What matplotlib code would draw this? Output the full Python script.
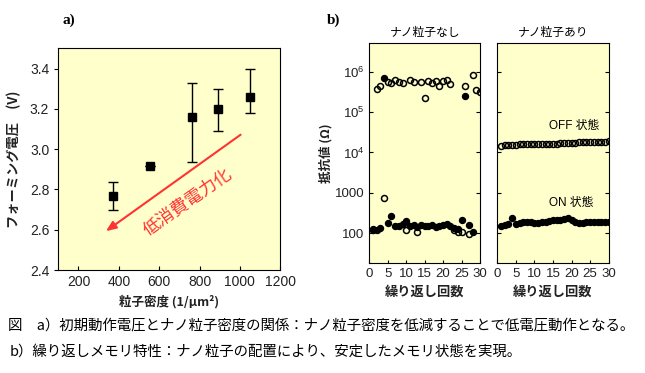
import matplotlib.pyplot as plt
import numpy as np
from matplotlib.ticker import FixedLocator, FixedFormatter

plt.rcParams['font.family'] = ['Liberation Sans', 'Noto Sans CJK JP']
plt.rcParams['mathtext.fontset'] = 'custom'
plt.rcParams['mathtext.rm'] = 'Liberation Sans'
plt.rcParams['mathtext.it'] = 'Liberation Sans:italic'

BG = "#FFFFCC"
JP = ['Noto Sans CJK JP', 'Liberation Sans']

# a) forming voltage vs particle density
density = [370, 555, 765, 890, 1050]
voltage = [2.77, 2.915, 3.16, 3.20, 3.26]
v_low = [2.70, 2.915, 2.935, 3.09, 3.18]
v_high = [2.835, 2.915, 3.33, 3.30, 3.40]

# b) switching endurance, cycle 1..30
cycles = np.arange(1, 31)
off_without = [117, 3.7e5, 4.5e5, 750, 5.4e5, 5.2e5, 6.2e5, 5.6e5, 5.3e5, 117,
               6.2e5, 5.5e5, 106, 5.5e5, 2.2e5, 6.0e5, 5.2e5, 5.8e5, 4.3e5, 6.0e5,
               6.2e5, 5.0e5, 117, 110, 110, 4.3e5, 96, 8.5e5, 3.6e5, 3.2e5]
on_without = [125, 121, 133, 6.9e5, 178, 271, 147, 147, 168, 196,
              147, 161, 140, 161, 152, 152, 161, 141, 147, 161,
              168, 147, 133, 128, 207, 2.45e5, 161, 106, np.nan, np.nan]
off_with = [1.45e4, 1.50e4, 1.53e4, 1.55e4, 1.57e4, 1.58e4, 1.60e4, 1.61e4, 1.62e4, 1.62e4,
            1.63e4, 1.64e4, 1.64e4, 1.65e4, 1.66e4, 1.66e4, 1.70e4, 1.76e4, 1.70e4, 1.74e4,
            1.76e4, 1.77e4, 1.78e4, 1.79e4, 1.80e4, 1.81e4, 1.82e4, 1.83e4, 1.85e4, 1.92e4]
on_with = [150, 158, 170, 235, 172, 180, 185, 188, 185, 183,
           183, 185, 192, 205, 212, 215, 218, 230, 235, 210,
           185, 180, 182, 185, 188, 190, 192, 190, 188, 185]

fig = plt.figure(figsize=(6.45, 3.73), dpi=100)

# ---- panel a
ax = fig.add_axes([0.0904, 0.276, 0.344, 0.594], facecolor=BG)
yerr = [np.array(voltage) - np.array(v_low), np.array(v_high) - np.array(voltage)]
ax.errorbar(density, voltage, yerr=yerr, fmt="s", color="black", ms=6,
            capsize=3.5, elinewidth=1, capthick=1)
ax.set_xlim(100, 1200)
ax.set_ylim(2.4, 3.5)
ax.set_xticks(range(200, 1201, 200))
ax.set_yticks(np.arange(2.4, 3.41, 0.2))
ax.set_yticklabels([f"{v:.1f}" for v in np.arange(2.4, 3.41, 0.2)])
ax.tick_params(axis="y", direction="out", length=3, labelsize=10, labelcolor="#222")
ax.tick_params(axis="x", direction="in", length=3, labelsize=10, labelcolor="#222")
ax.set_xlabel("粒子密度 (1/μm²)", fontsize=9, family=JP, fontweight="bold",
              color="#222", labelpad=4)
ax.set_ylabel("フォーミング電圧　(V)", fontsize=9.5, family=JP, fontweight="bold",
              color="#222", labelpad=6)

ax.annotate("", xy=(325, 2.585), xytext=(1015, 3.08),
            arrowprops=dict(arrowstyle="-|>,head_length=0.6,head_width=0.25",
                            color="#FF3333", lw=1.5))
ax.text(740, 2.74, "低消費電力化", color="#FF3333", fontsize=12.5, family=JP,
        rotation=35, rotation_mode="anchor", ha="center", va="center")

fig.text(0.097, 0.945, "a)", fontsize=11, fontweight="bold", family="Liberation Serif",
         ha="left", va="center")

# ---- panel b
yticks = [100, 1000, 1e4, 1e5, 1e6]
ylabels = ["100", "1000", "$10^4$", "$10^5$", "$10^6$"]


def style_b(a, title):
    a.set_yscale("log")
    a.set_xlim(0, 30)
    a.set_ylim(18, 5.2e6)
    a.set_xticks(range(0, 31, 5))
    a.yaxis.set_major_locator(FixedLocator(yticks))
    a.yaxis.set_minor_locator(FixedLocator([]))
    a.tick_params(axis="y", which="major", direction="in", length=3,
                  left=True, right=True, labelsize=9.5, labelcolor="#222")
    a.tick_params(axis="x", direction="in", length=2, labelsize=9.5, labelcolor="#222")
    a.set_title(title, fontsize=8.5, family=JP, pad=5)
    a.set_xlabel("繰り返し回数", fontsize=9.5, family=JP, fontweight="bold",
                 color="#222", labelpad=3)


axl = fig.add_axes([0.5726, 0.294, 0.1716, 0.5914], facecolor=BG)
axl.plot(cycles, off_without, "o", mfc="none", mec="black", ms=4.3, mew=1.1)
axl.plot(cycles, on_without, "o", color="black", ms=4.3)
style_b(axl, "ナノ粒子なし")
axl.yaxis.set_major_formatter(FixedFormatter(ylabels))
axl.set_ylabel("抵抗値 (Ω)", fontsize=9, family=JP, fontweight="bold",
               color="#222", labelpad=2)

axr = fig.add_axes([0.771, 0.294, 0.1727, 0.5914], facecolor=BG)
axr.plot(cycles, off_with, "o", mfc="none", mec="black", ms=4.3, mew=1.1)
axr.plot(cycles, on_with, "o", color="black", ms=4.3)
style_b(axr, "ナノ粒子あり")
axr.yaxis.set_major_formatter(FixedFormatter([""] * 5))
axr.text(14, 4.5e4, "OFF 状態", fontsize=8.5, ha="left", va="center")
axr.text(14, 560, "ON 状態", fontsize=8.5, ha="left", va="center")

fig.text(0.507, 0.945, "b)", fontsize=11, fontweight="bold", family="Liberation Serif",
         ha="left", va="center")

# ---- caption
fig.text(8 / 645, 1 - 326 / 373, "図　a）初期動作電圧とナノ粒子密度の関係：ナノ粒子密度を低減することで低電圧動作となる。",
         fontsize=10.4, family=JP, va="center", ha="left")
fig.text(10 / 645, 1 - 352 / 373, "b）繰り返しメモリ特性：ナノ粒子の配置により、安定したメモリ状態を実現。",
         fontsize=10.4, family=JP, va="center", ha="left")

fig.savefig("out.png", dpi=100)
